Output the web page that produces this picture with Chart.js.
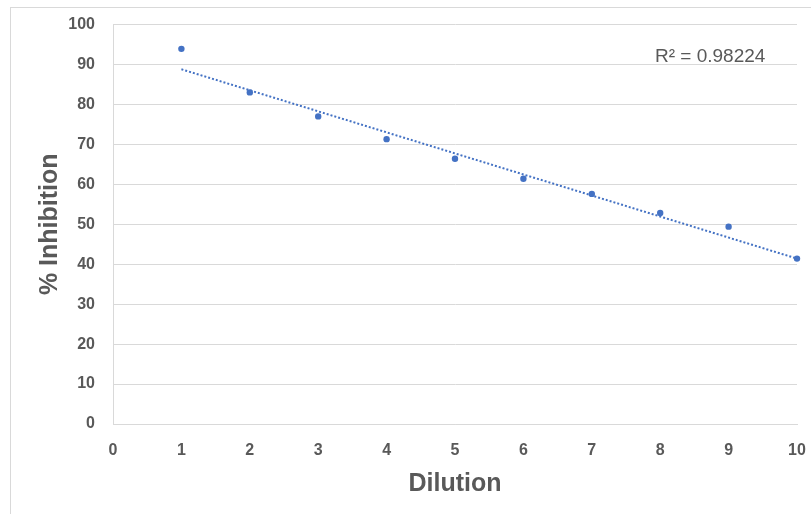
<!DOCTYPE html>
<html><head><meta charset="utf-8">
<script src="https://cdn.jsdelivr.net/npm/chart.js@4.4.0/dist/chart.umd.min.js"></script>
<style>
html,body{margin:0;padding:0;background:#fff;}
#wrap{position:relative;width:811px;height:514px;overflow:hidden;background:#fff;}
#frame{position:absolute;left:10px;top:7px;width:900px;height:600px;border-left:1px solid #d9d9d9;border-top:1px solid #d9d9d9;}
canvas{position:absolute;left:0;top:0;}
</style></head><body>
<div id="wrap"><div id="frame"></div><canvas id="c" width="811" height="514"></canvas></div>
<script>
const dilution = [1, 2, 3, 4, 5, 6, 7, 8, 9, 10];
const inhibition = [93.9, 83.0, 77.0, 71.3, 66.4, 61.4, 57.6, 52.8, 49.4, 41.4];
const trendX = [1, 10];
const trendY = [88.8, 41.4];
const xTickValues = [0, 1, 2, 3, 4, 5, 6, 7, 8, 9, 10];
const yTickValues = [0, 10, 20, 30, 40, 50, 60, 70, 80, 90, 100];
const rSquaredLabel = 'R\u00B2 = 0.98224';
const xTitle = 'Dilution';
const yTitle = '% Inhibition';

const gray = '#595959';
const blue = '#4472C4';
const family = "'Liberation Sans', Arial, sans-serif";

const pts = dilution.map((x, i) => ({x: x, y: inhibition[i]}));
const trend = trendX.map((x, i) => ({x: x, y: trendY[i]}));

const rLabelPlugin = {
  id: 'rLabel',
  afterDraw(chart) {
    const ctx = chart.ctx;
    const a = chart.chartArea;
    ctx.save();
    ctx.font = "19px " + family;
    ctx.fillStyle = gray;
    ctx.textAlign = 'left';
    ctx.textBaseline = 'middle';
    ctx.fillText(rSquaredLabel, a.left + 542, a.top + 32);
    ctx.restore();
  }
};

new Chart(document.getElementById('c'), {
  type: 'scatter',
  data: {
    datasets: [
      {
        data: pts,
        backgroundColor: blue,
        borderColor: blue,
        pointRadius: 3.2,
        pointBorderWidth: 0,
        clip: false,
        order: 1
      },
      {
        type: 'line',
        data: trend,
        borderColor: blue,
        borderWidth: 2,
        borderDash: [2, 2],
        pointRadius: 0,
        fill: false,
        showLine: true,
        clip: false,
        order: 2
      }
    ]
  },
  options: {
    responsive: false,
    devicePixelRatio: 1,
    animation: false,
    layout: {padding: {top: 24.5, right: 14, left: 0, bottom: 0}},
    plugins: {legend: {display: false}, tooltip: {enabled: false}},
    scales: {
      x: {
        type: 'linear',
        min: 0, max: 10,
        afterBuildTicks: s => { s.ticks = xTickValues.map(v => ({value: v})); },
        afterFit: s => { s.height = 90; s.paddingLeft = 0; s.paddingRight = 0; },
        ticks: {color: gray, font: {family: family, size: 16, weight: 'bold'}, padding: 17, maxRotation: 0},
        grid: {display: false, drawTicks: false},
        border: {display: true, color: '#d9d9d9', width: 1},
        title: {display: true, text: xTitle, color: gray, font: {family: family, size: 25, weight: 'bold'}, padding: {top: 0, bottom: 15}}
      },
      y: {
        type: 'linear',
        min: 0, max: 100,
        afterBuildTicks: s => { s.ticks = yTickValues.map(v => ({value: v})); },
        afterFit: s => { s.width = 113; s.paddingTop = 0; s.paddingBottom = 0; },
        ticks: {color: gray, font: {family: family, size: 16, weight: 'bold'}, padding: 18},
        grid: {color: '#d9d9d9', lineWidth: 1, drawTicks: false},
        border: {display: true, color: '#d9d9d9', width: 1},
        title: {display: true, text: yTitle, color: gray, font: {family: family, size: 25, weight: 'bold'}, padding: {top: 35, bottom: 0}}
      }
    }
  },
  plugins: [rLabelPlugin]
});
</script>
</body></html>
